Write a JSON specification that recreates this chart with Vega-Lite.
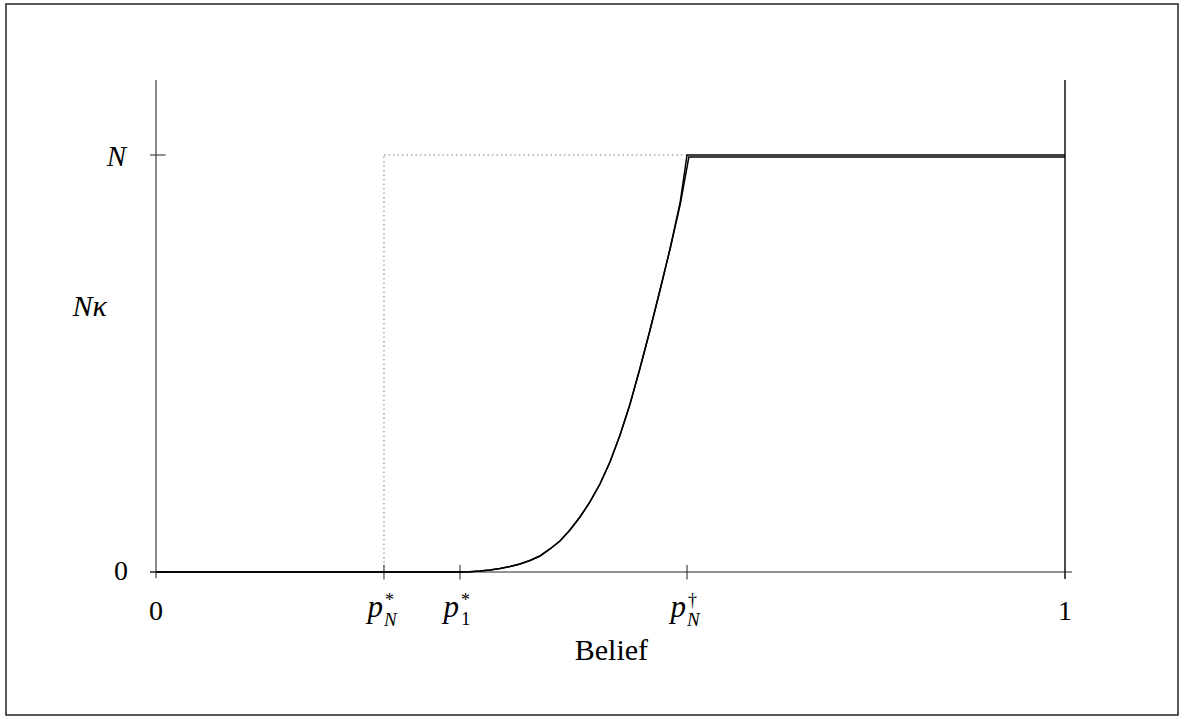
{
  "$schema": "https://vega.github.io/schema/vega-lite/v6.json",
  "width": 1172,
  "height": 711,
  "autosize": {"type": "none"},
  "padding": {"left": 6, "top": 4, "right": 5, "bottom": 5},
  "background": "white",
  "config": {"view": {"stroke": "#222222", "strokeWidth": 1.5}},
  "datasets": {
    "curves": [
      {"series": "A", "x": 0, "y": 0},
      {"series": "A", "x": 0.3344, "y": 0},
      {"series": "A", "x": 0.3454, "y": 0.0007},
      {"series": "A", "x": 0.3564, "y": 0.0024},
      {"series": "A", "x": 0.3674, "y": 0.0048},
      {"series": "A", "x": 0.3784, "y": 0.0084},
      {"series": "A", "x": 0.3894, "y": 0.0132},
      {"series": "A", "x": 0.4004, "y": 0.0192},
      {"series": "A", "x": 0.4114, "y": 0.0276},
      {"series": "A", "x": 0.4224, "y": 0.0384},
      {"series": "A", "x": 0.4334, "y": 0.0552},
      {"series": "A", "x": 0.4444, "y": 0.0743},
      {"series": "A", "x": 0.4554, "y": 0.1007},
      {"series": "A", "x": 0.4664, "y": 0.1319},
      {"series": "A", "x": 0.4774, "y": 0.1679},
      {"series": "A", "x": 0.4884, "y": 0.2110},
      {"series": "A", "x": 0.4994, "y": 0.2638},
      {"series": "A", "x": 0.5105, "y": 0.3285},
      {"series": "A", "x": 0.5215, "y": 0.4029},
      {"series": "A", "x": 0.5325, "y": 0.4892},
      {"series": "A", "x": 0.5435, "y": 0.5803},
      {"series": "A", "x": 0.5545, "y": 0.6763},
      {"series": "A", "x": 0.5655, "y": 0.7746},
      {"series": "A", "x": 0.5765, "y": 0.8849},
      {"series": "A", "x": 0.5842, "y": 1.0},
      {"series": "A", "x": 1, "y": 1.0},
      {"series": "B", "x": 0, "y": 0},
      {"series": "B", "x": 0.3344, "y": 0},
      {"series": "B", "x": 0.3454, "y": 0.0007},
      {"series": "B", "x": 0.3564, "y": 0.0024},
      {"series": "B", "x": 0.3674, "y": 0.0048},
      {"series": "B", "x": 0.3784, "y": 0.0084},
      {"series": "B", "x": 0.3894, "y": 0.0132},
      {"series": "B", "x": 0.4004, "y": 0.0192},
      {"series": "B", "x": 0.4114, "y": 0.0276},
      {"series": "B", "x": 0.4224, "y": 0.0384},
      {"series": "B", "x": 0.4334, "y": 0.0552},
      {"series": "B", "x": 0.4444, "y": 0.0743},
      {"series": "B", "x": 0.4554, "y": 0.1007},
      {"series": "B", "x": 0.4664, "y": 0.1319},
      {"series": "B", "x": 0.4774, "y": 0.1679},
      {"series": "B", "x": 0.4884, "y": 0.2110},
      {"series": "B", "x": 0.4994, "y": 0.2638},
      {"series": "B", "x": 0.5105, "y": 0.3285},
      {"series": "B", "x": 0.5215, "y": 0.4029},
      {"series": "B", "x": 0.5325, "y": 0.4892},
      {"series": "B", "x": 0.5435, "y": 0.5803},
      {"series": "B", "x": 0.5545, "y": 0.6763},
      {"series": "B", "x": 0.5655, "y": 0.7746},
      {"series": "B", "x": 0.5770, "y": 0.8849},
      {"series": "B", "x": 0.5862, "y": 0.9952},
      {"series": "B", "x": 1, "y": 0.9952}
    ],
    "guides": [
      {"x": 0.2508, "x2": 0.2508, "y": 0, "y2": 1},
      {"x": 0.2508, "x2": 0.5842, "y": 1, "y2": 1}
    ],
    "axes": [
      {"x": 0, "x2": 0, "y": -0.0144, "y2": 1.18},
      {"x": -0.0066, "x2": 1.0077, "y": 0, "y2": 0}
    ],
    "rightLine": [
      {"x": 1, "x2": 1, "y": -0.017, "y2": 1.18}
    ],
    "xTicks": [
      {"x": 0.2508, "x2": 0.2508, "y": -0.018, "y2": 0.017},
      {"x": 0.3344, "x2": 0.3344, "y": -0.018, "y2": 0.017},
      {"x": 0.5842, "x2": 0.5842, "y": -0.018, "y2": 0.017}
    ],
    "yTicks": [
      {"x": -0.0066, "x2": 0.0106, "y": 0, "y2": 0},
      {"x": -0.0066, "x2": 0.0106, "y": 1, "y2": 1}
    ],
    "xPlain": [
      {"x": 0, "y": 0, "t": "0"},
      {"x": 1, "y": 0, "t": "1"}
    ],
    "xMath": [
      {"x": 0.2508, "y": 0, "main": "p", "sup": "*", "subIt": "N", "subUp": ""},
      {"x": 0.3344, "y": 0, "main": "p", "sup": "*", "subIt": "", "subUp": "1"},
      {"x": 0.5842, "y": 0, "main": "p", "sup": "†", "subIt": "N", "subUp": ""}
    ],
    "yZero": [{"x": 0, "y": 0, "t": "0"}],
    "yN": [{"x": 0, "y": 1, "t": "N"}],
    "yNk": [{"x": 0, "y": 0.64, "t": "Nκ"}],
    "xTitle": [{"x": 0.501, "y": 0, "t": "Belief"}]
  },
  "encoding": {
    "x": {"field": "x", "type": "quantitative", "scale": {"domain": [-0.16502, 1.12431], "nice": false, "zero": false}, "axis": null},
    "y": {"field": "y", "type": "quantitative", "scale": {"domain": [-0.34293, 1.36211], "nice": false, "zero": false}, "axis": null}
  },
  "layer": [
    {
      "data": {"name": "guides"},
      "mark": {"type": "rule", "color": "#7a7a7a", "strokeWidth": 1, "strokeDash": [1.5, 3]},
      "encoding": {"x2": {"field": "x2"}, "y2": {"field": "y2"}}
    },
    {
      "data": {"name": "axes"},
      "mark": {"type": "rule", "color": "#6e6e6e", "strokeWidth": 1.6},
      "encoding": {"x2": {"field": "x2"}, "y2": {"field": "y2"}}
    },
    {
      "data": {"name": "rightLine"},
      "mark": {"type": "rule", "color": "#111111", "strokeWidth": 1.5},
      "encoding": {"x2": {"field": "x2"}, "y2": {"field": "y2"}}
    },
    {
      "data": {"name": "xTicks"},
      "mark": {"type": "rule", "color": "#222222", "strokeWidth": 1},
      "encoding": {"x2": {"field": "x2"}, "y2": {"field": "y2"}}
    },
    {
      "data": {"name": "yTicks"},
      "mark": {"type": "rule", "color": "#222222", "strokeWidth": 1},
      "encoding": {"x2": {"field": "x2"}, "y2": {"field": "y2"}}
    },
    {
      "data": {"name": "curves"},
      "mark": {"type": "line", "color": "#000000", "strokeWidth": 1.5, "interpolate": "linear"},
      "encoding": {"detail": {"field": "series"}}
    },
    {
      "data": {"name": "xPlain"},
      "mark": {"type": "text", "font": "Liberation Serif", "fontSize": 28, "align": "center", "baseline": "alphabetic", "dy": 48, "color": "#000"},
      "encoding": {"text": {"field": "t"}}
    },
    {
      "data": {"name": "xMath"},
      "mark": {"type": "text", "font": "Liberation Serif", "fontStyle": "italic", "fontSize": 31, "align": "right", "baseline": "alphabetic", "dy": 45, "dx": -1, "color": "#000"},
      "encoding": {"text": {"field": "main"}}
    },
    {
      "data": {"name": "xMath"},
      "mark": {"type": "text", "font": "Liberation Serif", "fontSize": 18, "align": "left", "baseline": "alphabetic", "dy": 34, "dx": 1, "color": "#000"},
      "encoding": {"text": {"field": "sup"}}
    },
    {
      "data": {"name": "xMath"},
      "mark": {"type": "text", "font": "Liberation Serif", "fontStyle": "italic", "fontSize": 19, "align": "left", "baseline": "alphabetic", "dy": 54, "dx": 0, "color": "#000"},
      "encoding": {"text": {"field": "subIt"}}
    },
    {
      "data": {"name": "xMath"},
      "mark": {"type": "text", "font": "Liberation Serif", "fontSize": 19, "align": "left", "baseline": "alphabetic", "dy": 53, "dx": 1, "color": "#000"},
      "encoding": {"text": {"field": "subUp"}}
    },
    {
      "data": {"name": "yZero"},
      "mark": {"type": "text", "font": "Liberation Serif", "fontSize": 28, "align": "right", "baseline": "alphabetic", "dy": 8, "dx": -28, "color": "#000"},
      "encoding": {"text": {"field": "t"}}
    },
    {
      "data": {"name": "yN"},
      "mark": {"type": "text", "font": "Liberation Serif", "fontStyle": "italic", "fontSize": 29, "align": "right", "baseline": "alphabetic", "dy": 11, "dx": -30, "color": "#000"},
      "encoding": {"text": {"field": "t"}}
    },
    {
      "data": {"name": "yNk"},
      "mark": {"type": "text", "font": "Liberation Serif", "fontStyle": "italic", "fontSize": 30, "align": "right", "baseline": "alphabetic", "dy": 11, "dx": -49, "color": "#000"},
      "encoding": {"text": {"field": "t"}}
    },
    {
      "data": {"name": "xTitle"},
      "mark": {"type": "text", "font": "Liberation Serif", "fontSize": 30, "align": "center", "baseline": "alphabetic", "dy": 88, "color": "#000"},
      "encoding": {"text": {"field": "t"}}
    }
  ]
}
